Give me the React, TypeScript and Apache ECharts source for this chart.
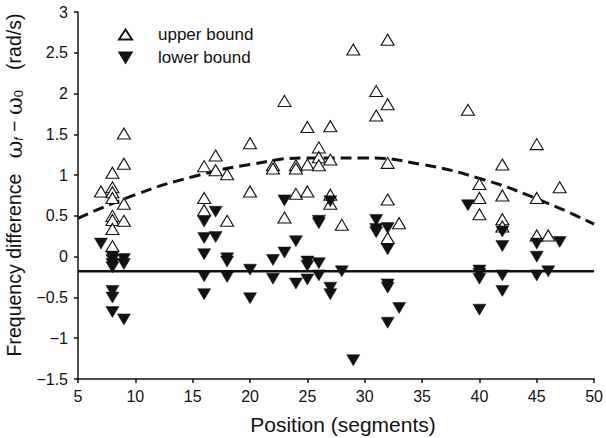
import React, { useEffect, useRef } from "react";
import * as echarts from "echarts";

// Upper bound (open triangles)
const upperX = [
  7,
  8, 8, 8, 8, 8, 8, 8, 8,
  9, 9, 9, 9,
  16, 16, 16,
  17, 17,
  18, 18,
  20, 20,
  22, 22,
  23, 23,
  24, 24, 24,
  25, 25, 25,
  26, 26, 26,
  27, 27, 27, 27,
  28,
  29,
  31, 31,
  32, 32, 32, 32, 32,
  33,
  39,
  40, 40, 40,
  42, 42, 42, 42,
  45, 45, 45,
  46,
  47,
];
const upperY = [
  0.8,
  1.03, 0.85, 0.79, 0.72, 0.5, 0.45, 0.34, 0.13,
  1.51, 1.14, 0.65, 0.44,
  1.11, 0.72, 0.57,
  1.24, 1.06,
  1.01, 0.44,
  1.39, 0.8,
  1.12, 1.08,
  1.91, 0.48,
  1.12, 1.08, 0.77,
  1.59, 1.13, 0.8,
  1.34, 1.22, 1.12,
  1.6, 1.19, 0.76, 0.65,
  0.39,
  2.54,
  2.03, 1.73,
  2.66, 1.87, 1.15, 0.7, 0.23,
  0.41,
  1.8,
  0.89, 0.72, 0.52,
  1.13, 0.75, 0.46, 0.37,
  1.38, 0.72, 0.26,
  0.26,
  0.85,
];

// Lower bound (filled downward triangles)
const lowerX = [
  7,
  8, 8, 8, 8, 8, 8, 8,
  9, 9, 9,
  16, 16, 16, 16, 16,
  17, 17,
  18, 18, 18,
  20, 20,
  22, 22,
  23, 23,
  24, 24,
  25, 25, 25,
  26, 26, 26, 26,
  27, 27, 27,
  28,
  29,
  31, 31, 31,
  32, 32, 32, 32, 32,
  33,
  39,
  40, 40, 40, 40,
  42, 42, 42, 42,
  45, 45, 45,
  46,
  47,
];
const lowerY = [
  0.16,
  0.0, -0.04, -0.09, -0.13, -0.42, -0.5, -0.68,
  -0.03, -0.09, -0.77,
  0.43, 0.23, 0.03, -0.24, -0.46,
  0.55, 0.24,
  -0.02, -0.06, -0.25,
  -0.16, -0.51,
  -0.04, -0.27,
  0.69, 0.05,
  0.19, -0.33,
  -0.06, -0.11, -0.28,
  0.44, 0.41, -0.08, -0.23,
  0.68, -0.38, -0.46,
  -0.18,
  -1.27,
  0.45, 0.34, 0.3,
  0.35, 0.09, -0.34, -0.38, -0.81,
  -0.63,
  0.63,
  -0.17, -0.21, -0.27, -0.65,
  0.31, 0.13, -0.23, -0.42,
  0.16, 0.0, -0.23,
  -0.18,
  0.18,
];

// Dashed fitted curve
const curveX = [5, 10, 15, 20, 25, 30, 35, 40, 45, 50];
const curveY = [0.47, 0.76, 0.98, 1.13, 1.21, 1.21, 1.13, 0.96, 0.71, 0.4];

// Solid horizontal reference line
const refX = [5, 50];
const refLevel = -0.18;

const xTicks = { min: 5, max: 50, interval: 5 };
const yTicks = { min: -1.5, max: 3, interval: 0.5 };

const xTitle = "Position (segments)";
const seriesNames = ["upper bound", "lower bound"];

const FONT = "'Liberation Sans', Arial, Helvetica, sans-serif";
const DOWN_TRI = "path://M0,0 L12,0 L6,10 Z";

export default function App() {
  const ref = useRef<HTMLDivElement>(null);

  useEffect(() => {
    if (!ref.current) return;
    const chart = echarts.init(ref.current, undefined, { renderer: "svg" });
    const fmt = (v: number) => String(v).replace("-", "\u2212");
    chart.setOption({
      animation: false,
      backgroundColor: "#ffffff",
      grid: { left: 78, right: 9, top: 12, bottom: 59, containLabel: false },
      legend: {
        orient: "vertical",
        left: 113,
        top: 21,
        itemGap: 6,
        itemWidth: 13,
        itemHeight: 10,
        textStyle: { fontFamily: FONT, fontSize: 17, color: "#111", padding: [0, 0, 0, 21] },
        data: seriesNames,
      },
      graphic: [
        {
          type: "text",
          x: 14,
          y: 185,
          rotation: Math.PI / 2,
          style: {
            text:
              "{t|Frequency difference}{g1|}{w|\u03C9}{i|f}{t| \u2212 }{w|\u03C9}{s|0}{g2|}{t|(rad/s)}",
            align: "center",
            verticalAlign: "middle",
            fill: "#111",
            fontFamily: FONT,
            fontSize: 19.5,
            rich: {
              t: { fontFamily: FONT, fontSize: 19.5, fill: "#111" },
              w: { fontFamily: "'DejaVu Serif', serif", fontSize: 22, fill: "#111" },
              i: {
                fontFamily: FONT,
                fontSize: 12,
                fontStyle: "italic",
                fill: "#111",
                verticalAlign: "bottom",
                padding: [9, 0, 0, 0],
              },
              s: {
                fontFamily: FONT,
                fontSize: 13,
                fill: "#111",
                verticalAlign: "bottom",
                padding: [9, 0, 0, 0],
              },
              g1: { width: 15 },
              g2: { width: 20 },
            },
          },
        },
        {
          type: "text",
          x: 343,
          y: 424,
          style: {
            text: xTitle,
            align: "center",
            verticalAlign: "middle",
            fill: "#111",
            fontFamily: FONT,
            fontSize: 21,
          },
        },
      ],
      xAxis: {
        type: "value",
        min: xTicks.min,
        max: xTicks.max,
        interval: xTicks.interval,
        axisLine: { show: true, onZero: false, lineStyle: { color: "#111", width: 1.5 } },
        axisTick: { show: true, inside: false, length: 4, lineStyle: { color: "#111", width: 1.5 } },
        axisLabel: { fontFamily: FONT, fontSize: 16, color: "#111", margin: 9, formatter: fmt },
        splitLine: { show: false },
      },
      yAxis: {
        type: "value",
        min: yTicks.min,
        max: yTicks.max,
        interval: yTicks.interval,
        axisLine: { show: true, onZero: false, lineStyle: { color: "#111", width: 1.5 } },
        axisTick: { show: true, inside: false, length: 4, lineStyle: { color: "#111", width: 1.5 } },
        axisLabel: { fontFamily: FONT, fontSize: 16, color: "#111", margin: 10, formatter: fmt },
        splitLine: { show: false },
      },
      series: [
        {
          name: "dashed fit",
          type: "line",
          data: curveX.map((x, i) => [x, curveY[i]]),
          smooth: true,
          showSymbol: false,
          symbol: "none",
          lineStyle: { color: "#111", width: 3, type: [11, 6] },
          z: 1,
        },
        {
          name: "reference",
          type: "line",
          data: refX.map((x) => [x, refLevel]),
          showSymbol: false,
          symbol: "none",
          lineStyle: { color: "#111", width: 2.5 },
          z: 1,
        },
        {
          name: seriesNames[0],
          type: "scatter",
          symbol: "triangle",
          symbolSize: [13, 11],
          data: upperX.map((x, i) => [x, upperY[i]]),
          itemStyle: { color: "#ffffff", borderColor: "#111", borderWidth: 1.1, opacity: 1 },
          z: 3,
        },
        {
          name: seriesNames[1],
          type: "scatter",
          symbol: DOWN_TRI,
          symbolSize: [13, 11],
          data: lowerX.map((x, i) => [x, lowerY[i]]),
          itemStyle: { color: "#111", borderColor: "#111", borderWidth: 0.5, opacity: 1 },
          z: 4,
        },
      ],
    });
    return () => chart.dispose();
  }, []);

  return <div ref={ref} style={{ width: 606, height: 438, position: "fixed", left: 0, top: 0 }} />;
}
